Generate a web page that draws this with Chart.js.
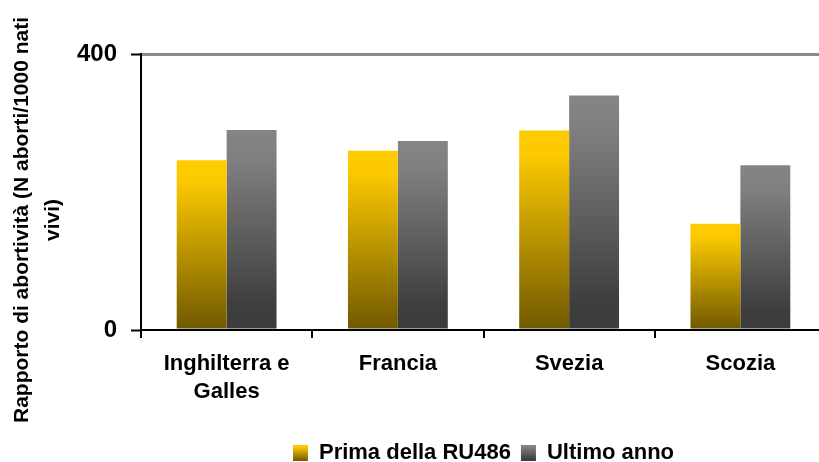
<!DOCTYPE html>
<html>
<head>
<meta charset="utf-8">
<script src="https://cdn.jsdelivr.net/npm/chart.js@4/dist/chart.umd.min.js"></script>
<style>
  html, body { margin: 0; padding: 0; background: #fff; overflow: hidden; }
  #wrap { position: absolute; left: 0; top: 0; width: 830px; height: 462px; }
</style>
</head>
<body>
<div id="wrap"><canvas id="chart"></canvas></div>
<script>
const categories = [['Inghilterra e', 'Galles'], 'Francia', 'Svezia', 'Scozia']
const primaRU486 = [246, 260, 289, 154]
const ultimoAnno = [290, 274, 340, 239]
const yTicks = [0, 400]
const yTitle = ['Rapporto di abortività (N aborti/1000 nati', 'vivi)']

const FONT = '"Liberation Sans", Arial, sans-serif'
const YELLOW = [[0, '#FFCC00'], [0.12, '#FCC900'], [1, '#6F5800']]
const GREY = [[0, '#858585'], [0.15, '#7F7F7F'], [0.88, '#3E3E3E'], [1, '#3C3C3C']]

function gradient(c, stops, top, bottom) {
  const g = c.createLinearGradient(0, top, 0, bottom)
  stops.forEach(([o, col]) => g.addColorStop(o, col))
  return g
}

function barFill(stops) {
  return (ctx) => {
    const chart = ctx.chart
    if (!chart.chartArea || ctx.type !== 'data') return stops[0][1]
    const y = chart.scales.y
    return gradient(chart.ctx, stops, y.getPixelForValue(ctx.raw), y.getPixelForValue(0))
  }
}

// legend boxes get the same vertical gradient as the bars
const legendGradients = {
  id: 'legendGradients',
  beforeDraw(chart) {
    const lg = chart.legend
    if (!lg || !lg.legendHitBoxes) return
    const fills = [YELLOW, GREY]
    lg.legendItems.forEach((item, i) => {
      const hb = lg.legendHitBoxes[i]
      const top = hb.top + 3
      item.fillStyle = gradient(chart.ctx, fills[i], top, top + 16)
    })
  },
}

// two-line rotated y title, longer than the axis itself
const yAxisTitle = {
  id: 'yAxisTitle',
  afterDraw(chart) {
    const c = chart.ctx
    c.save()
    c.font = 'bold 21px ' + FONT
    c.fillStyle = '#000'
    c.textAlign = 'center'
    c.textBaseline = 'middle'
    c.translate(22, 220)
    c.rotate(-Math.PI / 2)
    c.fillText(yTitle[0], 0, 0)
    c.fillText(yTitle[1], 0, 31)
    c.restore()
  },
}

new Chart(document.getElementById('chart'), {
  type: 'bar',
  data: {
    labels: categories,
    datasets: [
      { label: 'Prima della RU486', data: primaRU486, backgroundColor: barFill(YELLOW), borderWidth: 0 },
      { label: 'Ultimo anno', data: ultimoAnno, backgroundColor: barFill(GREY), borderWidth: 0 },
    ],
  },
  options: {
    responsive: true,
    maintainAspectRatio: false,
    animation: false,
    datasets: { bar: { categoryPercentage: 0.583, barPercentage: 1.0 } },
    layout: { padding: { left: 75, right: 4, top: 54, bottom: -12 } },
    scales: {
      x: {
        afterFit: (s) => { s.height += 14 },
        grid: { offset: true, drawOnChartArea: false, color: '#000', lineWidth: 2, tickLength: 8 },
        border: { color: '#000', width: 2 },
        ticks: {
          color: '#000',
          font: { family: FONT, size: 22, weight: 'bold', lineHeight: 1.27 },
          padding: 12,
          maxRotation: 0,
          autoSkip: false,
        },
      },
      y: {
        min: 0,
        max: 400,
        afterBuildTicks: (s) => { s.ticks = yTicks.map((v) => ({ value: v })) },
        afterFit: (s) => { s.width = 66 },
        grid: {
          color: (c) => (c.tick && c.tick.value === 400 ? '#8C8C8C' : 'rgba(0,0,0,0)'),
          lineWidth: 3,
          tickColor: '#000',
          tickWidth: 2,
          tickLength: 10,
        },
        border: { color: '#000', width: 2 },
        ticks: {
          color: '#000',
          font: { family: FONT, size: 24, weight: 'bold' },
          padding: 14,
        },
      },
    },
    plugins: {
      legend: {
        position: 'bottom',
        fullSize: false,
        labels: {
          boxWidth: 15,
          boxHeight: 16,
          padding: 10,
          color: '#000',
          font: { family: FONT, size: 22, weight: 'bold' },
        },
      },
      tooltip: { enabled: false },
    },
  },
  plugins: [legendGradients, yAxisTitle],
})
</script>
</body>
</html>
